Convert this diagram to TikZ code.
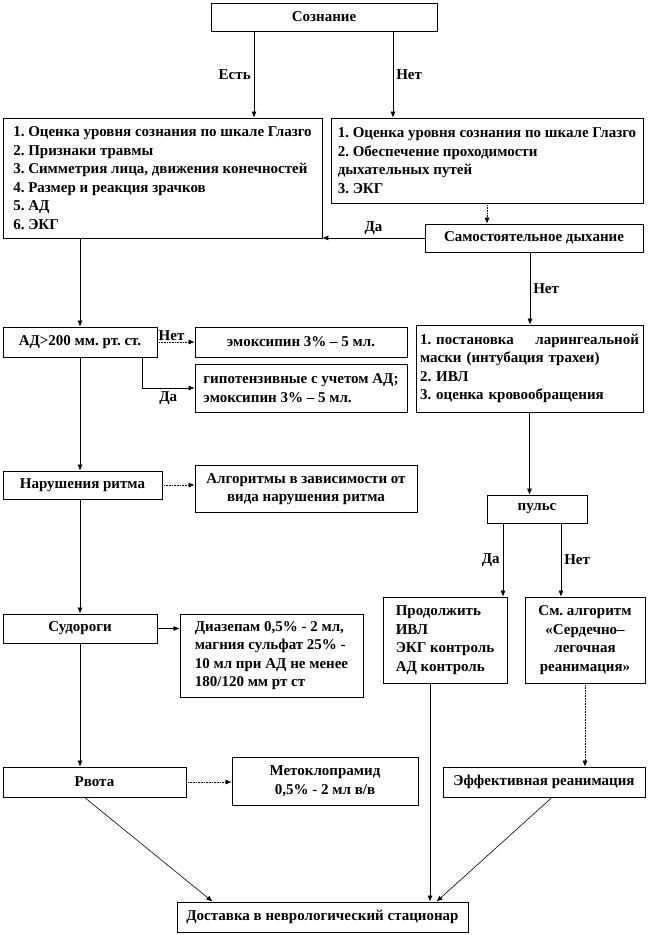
\documentclass[tikz,border=0pt]{standalone}
\usepackage{fontspec}
\setmainfont{Liberation Serif}
\frenchspacing
\usetikzlibrary{positioning,arrows.meta}
\tikzset{
box/.style={
draw,
line width=0.8pt,
inner sep=4pt,
align=center,
font=\fontsize{15}{18.5}\selectfont\bfseries
},
listbox/.style={
box,
align=left
},
arrow/.style={
-{Latex[length=6pt,width=5pt]},
line width=0.6pt
},
dotarrow/.style={
arrow,
densely dotted
},
lbl/.style={
font=\fontsize{15}{18}\selectfont\bfseries,
inner sep=3pt
}
}

\begin{document}
\begin{tikzpicture}[x=1pt,y=-1pt]
\useasboundingbox (0,0) rectangle (648,935);

% top
\node[box,minimum width=226,minimum height=28](soz) at (324,17){Сознание};
\node[listbox,minimum width=319,minimum height=120](ocA) at (162.5,178){1. Оценка уровня сознания по шкале  Глазго\\2. Признаки травмы\\3. Симметрия лица, движения конечностей\\4. Размер и реакция  зрачков\\5. АД\\6. ЭКГ};
\node[listbox,minimum width=312,minimum height=85](ocB) at (487,160.5){1. Оценка уровня сознания по шкале  Глазго\\2. Обеспечение проходимости\\дыхательных  путей\\3. ЭКГ};
\node[box,minimum width=218,minimum height=28](dyh) at (534,238){Самостоятельное дыхание};

% left column
\node[box,minimum width=154,minimum height=30](ad) at (80,342){АД>200 мм. рт. ст.};
\node[box,minimum width=212,minimum height=30](emo1) at (301,342){эмоксипин 3\% – 5 мл.};
\node[listbox,minimum width=212,minimum height=48](emo2) at (301,388){гипотензивные с учетом  АД;\\эмоксипин 3\% – 5 мл.};
\node[box,minimum width=159,minimum height=28](rit) at (82.5,485){Нарушения  ритма};
\node[box,minimum width=222,minimum height=47](alg) at (306,489){Алгоритмы в зависимости от\\вида нарушения ритма};
\node[box,minimum width=154,minimum height=29](sud) at (80,628.5){Судороги};
\node[listbox,minimum width=183,minimum height=83](diaz) at (271.5,655.5){Диазепам 0,5\% - 2 мл,\\магния сульфат  25\% -\\10 мл при АД не менее\\180/120 мм рт ст};
\node[box,minimum width=183,minimum height=30](rvota) at (94.5,782){Рвота};
\node[box,minimum width=186,minimum height=48](meto) at (325,781){Метоклопрамид\\0,5\% - 2 мл в/в};

% right column
\node[listbox,text width=219,minimum height=87](lar) at (529.5,368.5){1. постановка\hfill ларингеальной\\маски (интубация трахеи)\\2. ИВЛ\\3. оценка кровообращения};
\node[box,minimum width=100,minimum height=28](puls) at (537,509){пульс};
\node[listbox,minimum width=124,minimum height=86](prod) at (445,640){Продолжить\\ИВЛ\\ЭКГ контроль\\АД контроль};
\node[box,minimum width=120,minimum height=86](sm) at (585,640){См. алгоритм\\«Сердечно–\\легочная\\реанимация»};
\node[box,minimum width=202,minimum height=30](eff) at (544,782){Эффективная  реанимация};

\node[box,minimum width=291,minimum height=30](dost) at (322.5,917){Доставка в неврологический стационар};

% connectors
\draw[arrow]([xshift=-70]soz.south)--([xshift=-70]soz.south |- ocA.north) node[lbl,midway,left]{Есть};
\draw[arrow]([xshift=69]soz.south)--([xshift=69]soz.south |- ocB.north) node[lbl,midway,right]{Нет};
\draw[dotarrow](ocB.south)--(ocB.south |- dyh.north);
\draw[arrow](dyh.west)--(dyh.west -| ocA.east) node[lbl,midway,above]{Да};
\draw[arrow]([xshift=-4]dyh.south)--([xshift=-4]dyh.south |- lar.north) node[lbl,midway,right]{Нет};
\draw[arrow](ocA.south -| ad.north)--(ad.north);
\draw[dotarrow](ad.east)--(emo1.west) node[lbl,at start,above right,inner sep=1pt]{Нет};
\draw[arrow]([xshift=62]ad.south)|-(emo2.west) node[lbl,pos=0.75,below]{Да};
\draw[arrow](ad.south)--(ad.south |- rit.north);
\draw[dotarrow](rit.east)--(rit.east -| alg.west);
\draw[arrow](ad.south |- rit.south)--(ad.south |- sud.north);
\draw[arrow](sud.east)--(sud.east -| diaz.west);
\draw[arrow](sud.south)--(sud.south |- rvota.north);
\draw[dotarrow](rvota.east)--(rvota.east -| meto.west);
\draw[arrow](lar.south)--(lar.south |- puls.north);
\draw[arrow]([xshift=-34]puls.south)--([xshift=-34]puls.south |- prod.north) node[lbl,midway,left]{Да};
\draw[arrow]([xshift=24]puls.south)--([xshift=24]puls.south |- sm.north) node[lbl,midway,right]{Нет};
\draw[dotarrow](sm.south)--(sm.south |- eff.north);
\draw[arrow]([xshift=-15]prod.south)--([xshift=-15]prod.south |- dost.north);
\draw[arrow]([xshift=-10]rvota.south)--([xshift=-110]dost.north);
\draw[arrow]([xshift=8]eff.south)--([xshift=114]dost.north);
\end{tikzpicture}
\end{document}
